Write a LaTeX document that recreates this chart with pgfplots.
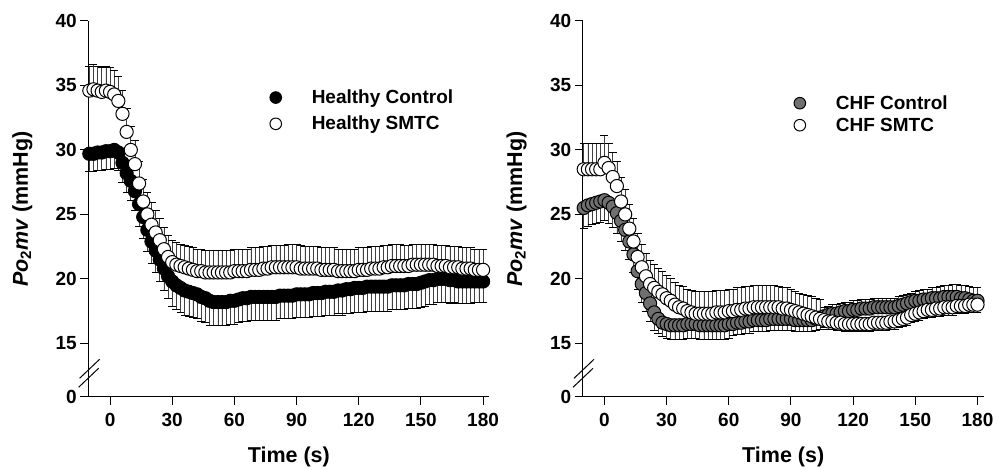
\documentclass[border=0pt]{standalone}
\usepackage{pgfplots}
\pgfplotsset{compat=1.18}
\usepackage{pgfplotstable}
\usepackage{fontspec}
\setmainfont{Liberation Sans}

\definecolor{chfgrey}{gray}{0.44}

% healthy rats: control (lower SE) and SMTC (upper SE)
\pgfplotstableread{
t hc hcm hs hsp
-10 29.7 1.4 34.6 1.9
-8 29.7 1.4 34.7 1.9
-6 29.8 1.4 34.6 1.9
-4 29.8 1.4 34.5 1.9
-2 29.9 1.4 34.6 1.9
0 29.9 1.4 34.5 1.9
2 30.0 1.4 34.3 1.9
4 29.8 1.4 33.8 1.9
6 29.0 1.5 32.8 1.8
8 28.2 1.5 31.4 1.8
10 27.6 1.5 30.0 1.8
12 26.8 1.5 28.9 1.8
14 25.8 1.7 27.4 1.7
16 24.8 1.7 26.0 1.7
18 23.8 1.7 25.0 1.7
20 22.9 1.7 24.2 1.7
22 22.2 1.7 23.6 1.7
24 21.5 1.7 23.0 1.7
26 20.8 1.7 22.3 1.7
28 20.2 1.7 21.7 1.7
30 19.8 1.9 21.3 1.7
32 19.5 1.9 21.1 1.7
34 19.3 1.9 21.0 1.7
36 19.1 1.9 20.9 1.7
38 19.0 1.9 20.8 1.7
40 18.9 1.9 20.7 1.7
42 18.8 1.9 20.6 1.7
44 18.6 1.9 20.6 1.7
46 18.5 1.9 20.5 1.7
48 18.3 1.9 20.5 1.7
50 18.2 1.8 20.5 1.7
52 18.2 1.8 20.5 1.7
54 18.2 1.8 20.5 1.7
56 18.2 1.8 20.5 1.7
58 18.3 1.8 20.5 1.7
60 18.3 1.8 20.6 1.7
62 18.4 1.8 20.6 1.7
64 18.5 1.8 20.6 1.7
66 18.5 1.8 20.6 1.7
68 18.6 1.8 20.7 1.7
70 18.6 1.8 20.7 1.7
72 18.6 1.8 20.7 1.7
74 18.6 1.8 20.8 1.7
76 18.6 1.8 20.8 1.7
78 18.6 1.8 20.9 1.7
80 18.6 1.8 20.9 1.7
82 18.7 1.8 20.9 1.7
84 18.7 1.8 20.9 1.7
86 18.7 1.8 20.9 1.8
88 18.7 1.8 20.9 1.8
90 18.8 1.8 20.9 1.8
92 18.8 1.8 20.8 1.8
94 18.8 1.8 20.8 1.7
96 18.8 1.8 20.8 1.7
98 18.9 1.8 20.8 1.7
100 18.9 1.8 20.8 1.7
102 18.9 1.8 20.7 1.7
104 19.0 1.8 20.7 1.7
106 19.0 1.8 20.7 1.7
108 19.0 1.8 20.7 1.7
110 19.1 1.8 20.6 1.7
112 19.1 1.9 20.6 1.7
114 19.2 1.9 20.6 1.7
116 19.2 1.9 20.6 1.7
118 19.3 1.9 20.6 1.7
120 19.3 1.9 20.7 1.7
122 19.3 1.9 20.7 1.7
124 19.4 1.9 20.7 1.7
126 19.4 1.9 20.8 1.7
128 19.4 1.9 20.8 1.7
130 19.4 1.9 20.8 1.7
132 19.4 1.9 20.9 1.7
134 19.4 1.9 20.9 1.7
136 19.5 1.9 21.0 1.7
138 19.5 1.9 21.0 1.7
140 19.5 1.9 21.0 1.7
142 19.5 1.9 21.0 1.6
144 19.6 1.9 21.0 1.6
146 19.6 1.9 21.1 1.6
148 19.6 1.9 21.1 1.6
150 19.7 1.9 21.1 1.6
152 19.8 1.9 21.1 1.6
154 19.9 1.9 21.1 1.6
156 19.9 1.9 21.1 1.6
158 20.0 1.8 21.0 1.6
160 20.0 1.8 21.0 1.6
162 20.0 1.8 21.0 1.6
164 19.9 1.8 20.9 1.6
166 19.9 1.7 20.9 1.6
168 19.8 1.7 20.9 1.6
170 19.8 1.7 20.8 1.6
172 19.8 1.7 20.8 1.6
174 19.8 1.7 20.8 1.6
176 19.8 1.6 20.7 1.6
178 19.8 1.6 20.7 1.6
180 19.8 1.6 20.7 1.6
}\healthy

% CHF rats: plus/minus SE (bar points away from the other curve)
\pgfplotstableread{
t cc ccp ccm cs csp csm
-10 25.5 0 1.6 28.5 2.0 0
-8 25.7 0 1.6 28.5 2.0 0
-6 25.8 0 1.6 28.5 2.0 0
-4 25.9 0 1.6 28.5 2.0 0
-2 26.0 0 1.6 28.5 2.0 0
0 26.1 0 1.6 29.0 2.1 0
2 25.9 0 1.6 28.6 1.9 0
4 25.6 0 1.6 27.9 1.9 0
6 25.1 0 1.6 27.2 1.9 0
8 24.5 0 1.6 26.0 1.9 0
10 23.8 0 1.6 25.0 1.9 0
12 22.9 0 1.4 23.9 1.9 0
14 21.9 0 1.4 22.9 1.8 0
16 20.6 0 1.4 21.7 1.8 0
18 19.6 0 1.4 20.9 1.8 0
20 18.9 0 1.4 20.2 1.8 0
22 18.1 0 1.4 19.6 1.8 0
24 17.4 0 1.4 19.3 1.8 0
26 16.9 0 1.1 19.0 1.8 0
28 16.6 0 1.1 18.8 1.8 0
30 16.5 0 1.1 18.5 1.8 0
32 16.4 0 1.1 18.3 1.7 0
34 16.4 0 1.1 18.0 1.7 0
36 16.4 0 1.1 17.8 1.7 0
38 16.4 0 1.1 17.7 1.7 0
40 16.5 0 1.1 17.5 1.7 0
42 16.5 0 1.1 17.4 1.7 0
44 16.5 0 1.1 17.3 1.7 0
46 16.4 0 1.1 17.3 1.7 0
48 16.4 0 1.1 17.3 1.7 0
50 16.4 0 1.1 17.3 1.7 0
52 16.4 0 1.1 17.3 1.7 0
54 16.4 0 1.1 17.4 1.7 0
56 16.4 0 1.1 17.4 1.7 0
58 16.4 0 1.1 17.4 1.7 0
60 16.5 0 1.1 17.5 1.7 0
62 16.5 0 0.9 17.5 1.7 0
64 16.6 0 0.9 17.6 1.7 0
66 16.6 0 0.9 17.6 1.7 0
68 16.7 0 0.9 17.7 1.7 0
70 16.7 0 0.9 17.7 1.7 0
72 16.8 0 0.9 17.8 1.7 0
74 16.8 0 0.9 17.8 1.7 0
76 16.8 0 0.9 17.8 1.7 0
78 16.8 0 0.9 17.8 1.7 0
80 16.9 0 0.9 17.8 1.7 0
82 16.9 0 0.9 17.8 1.7 0
84 16.9 0 0.9 17.8 1.6 0
86 16.9 0 0.9 17.7 1.6 0
88 16.9 0 0.9 17.7 1.6 0
90 16.9 0 0.9 17.6 1.6 0
92 16.8 0 0.9 17.5 1.5 0
94 16.8 0 0.9 17.4 1.5 0
96 16.8 0 0.9 17.3 1.5 0
98 16.8 0 0.9 17.2 1.5 0
100 16.8 0 0.9 17.1 1.5 0
102 16.9 0 0.9 17.0 1.5 0
104 17.0 0 0.9 16.9 1.5 0
106 17.1 0.7 0 16.8 0 0.6
108 17.2 0.7 0 16.7 0 0.6
110 17.3 0.7 0 16.7 0 0.6
112 17.3 0.7 0 16.6 0 0.6
114 17.4 0.7 0 16.6 0 0.6
116 17.5 0.7 0 16.5 0 0.6
118 17.5 0.7 0 16.5 0 0.6
120 17.6 0.7 0 16.5 0 0.6
122 17.6 0.7 0 16.5 0 0.6
124 17.7 0.7 0 16.5 0 0.6
126 17.7 0.7 0 16.5 0 0.6
128 17.7 0.7 0 16.5 0 0.6
130 17.8 0.7 0 16.6 0 0.6
132 17.8 0.7 0 16.6 0 0.6
134 17.8 0.7 0 16.6 0 0.6
136 17.8 0.7 0 16.6 0 0.6
138 17.8 0.7 0 16.7 0 0.6
140 17.8 0.7 0 16.7 0 0.6
142 17.9 0.7 0 16.8 0 0.6
144 18.0 0.7 0 16.9 0 0.6
146 18.1 0.7 0 17.0 0 0.6
148 18.2 0.7 0 17.2 0 0.6
150 18.3 0.7 0 17.3 0 0.6
152 18.3 0.8 0 17.4 0 0.6
154 18.4 0.8 0 17.5 0 0.6
156 18.4 0.8 0 17.6 0 0.6
158 18.5 0.8 0 17.6 0 0.6
160 18.5 0.8 0 17.7 0 0.6
162 18.5 0.9 0 17.7 0 0.6
164 18.6 0.9 0 17.8 0 0.6
166 18.6 0.9 0 17.8 0 0.6
168 18.6 1.0 0 17.8 0 0.6
170 18.6 1.0 0 17.9 0 0.6
172 18.5 1.0 0 17.9 0 0.6
174 18.5 1.0 0 17.9 0 0.6
176 18.4 1.0 0 18.0 0 0.6
178 18.3 1.0 0 18.0 0 0.6
180 18.3 1.0 0 18.0 0 0.6
}\chf

\pgfplotsset{
  panel/.style={
    scale only axis, width=401pt, height=376pt,
    xmin=-10.5, xmax=183, ymin=10.84, ymax=40,
    axis x line*=bottom, axis y line*=left,
    axis line style={line width=1pt},
    tick align=outside, major tick length=8pt,
    tick style={black, line width=1pt},
    xtick={0,30,...,180},
    ytick={10.84,15,20,25,30,35,40},
    yticklabels={0,15,20,25,30,35,40},
    /pgf/number format/assume math mode=true,
    tick label style={font=\fontsize{19}{22}\selectfont\bfseries},
    xticklabel style={yshift=-5pt},
    xlabel={Time (s)},
    xlabel style={at={(rel axis cs:0.5,0)}, anchor=center, yshift=-60pt,
      font=\fontsize{21.5}{24}\selectfont\bfseries},
    ylabel={\textit{Po}\textsubscript{2}\textit{mv} (mmHg)},
    ylabel style={at={(rel axis cs:0,0.5)}, anchor=center, yshift=66pt,
      font=\fontsize{21.5}{24}\selectfont\bfseries},
    clip=false,
    legend style={draw=none, fill=none, inner sep=0pt, outer sep=0pt,
      font=\fontsize{19}{22}\selectfont\bfseries,
      cells={anchor=west}},
    legend image code/.code={
      \draw[#1, mark size=5.8pt] plot coordinates {(0pt,0pt)};
      \path[draw=none, fill=none] (-7pt,-6pt) rectangle (34pt,6pt);},
  },
  sem/.style={only marks, mark=*, mark size=6.6pt,
    mark options={line width=1pt, draw=black},
    error bars/y explicit,
    error bars/error bar style={line width=0.6pt, black!75},
    error bars/error mark options={rotate=90, line width=0.9pt, mark size=4pt, black}},
}

\begin{document}
\begin{tikzpicture}
\useasboundingbox (-88.3pt,-73pt) rectangle (909.7pt,397pt);

\begin{axis}[panel, at={(0pt,0pt)}, anchor=south west,
  legend style={at={(rel axis cs:0.450,0.822)}, anchor=north west, row sep=7pt}]
\addplot[sem, fill=black, error bars/y dir=minus]
  table[x=t, y=hc, y error minus=hcm] {\healthy};
\addlegendentry{Healthy Control}
\addplot[sem, fill=white, error bars/y dir=plus]
  table[x=t, y=hs, y error plus=hsp] {\healthy};
\addlegendentry{Healthy SMTC}
\end{axis}
\draw[line width=1pt] (-9.7pt,9.7pt) -- (10.3pt,28.7pt);
\draw[line width=1pt] (-8.7pt,18.7pt) -- (11.3pt,37.7pt);

\begin{axis}[panel, at={(494.4pt,0pt)}, anchor=south west,
  legend style={at={(rel axis cs:0.524,0.807)}, anchor=north west, row sep=3pt}]
\addplot[sem, fill=chfgrey, error bars/y dir=both]
  table[x=t, y=cc, y error plus=ccp, y error minus=ccm] {\chf};
\addlegendentry{CHF Control}
\addplot[sem, fill=white, error bars/y dir=both]
  table[x=t, y=cs, y error plus=csp, y error minus=csm] {\chf};
\addlegendentry{CHF SMTC}
\end{axis}
\draw[line width=1pt] (484.7pt,9.7pt) -- (504.7pt,28.7pt);
\draw[line width=1pt] (485.7pt,18.7pt) -- (505.7pt,37.7pt);
\end{tikzpicture}
\end{document}
